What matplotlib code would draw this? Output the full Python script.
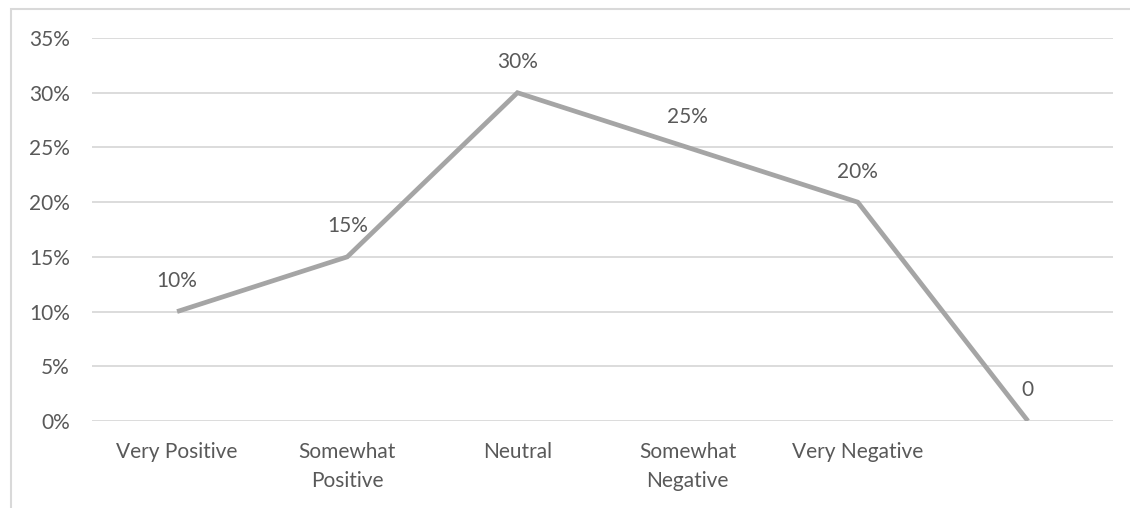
import matplotlib
matplotlib.use("Agg")
import matplotlib.pyplot as plt
from matplotlib.patches import Rectangle
from matplotlib.ticker import FuncFormatter, MultipleLocator

categories = ["Very Positive", "Somewhat\nPositive", "Neutral",
              "Somewhat\nNegative", "Very Negative", ""]
values = [0.10, 0.15, 0.30, 0.25, 0.20, 0.0]
value_labels = ["10%", "15%", "30%", "25%", "20%", "0"]

plt.rcParams['font.family'] = ['Lato', 'DejaVu Sans']
text_color = "#595959"
grid_color = "#D9D9D9"
line_color = "#A5A5A5"
fs = 15

fig = plt.figure(figsize=(11.30, 5.08), dpi=100)
ax = fig.add_axes([92 / 1130, 1 - 421 / 508, (1113 - 92) / 1130, (421 - 38) / 508])

# chart-area border
fig.patches.append(Rectangle((11 / 1130, -0.1), 1.2, 1 - 9 / 508 + 0.1,
                             transform=fig.transFigure, fill=False,
                             edgecolor=grid_color, linewidth=1.5))

x = list(range(len(categories)))
ax.plot(x, values, color=line_color, linewidth=3.4, solid_joinstyle="miter",
        solid_capstyle="butt", zorder=3)

for xi, v, lab in zip(x, values, value_labels):
    ax.annotate(lab, (xi, v), xytext=(0, 22), textcoords="offset points",
                ha="center", va="center", fontsize=fs, color=text_color)

ax.set_xlim(-0.5, len(categories) - 0.5)
ax.set_ylim(0, 0.35)
ax.yaxis.set_major_locator(MultipleLocator(0.05))
ax.yaxis.set_major_formatter(FuncFormatter(lambda v, p: f"{v * 100:.0f}%"))
ax.set_xticks(x)
ax.set_xticklabels(categories, linespacing=1.55)

ax.grid(axis="y", color=grid_color, linewidth=1.3)
ax.set_axisbelow(True)
for s in ax.spines.values():
    s.set_visible(False)
ax.tick_params(axis="both", length=0, labelsize=fs, labelcolor=text_color)
ax.tick_params(axis="y", pad=16)
ax.tick_params(axis="x", pad=15)

fig.savefig("out.png", dpi=100)
